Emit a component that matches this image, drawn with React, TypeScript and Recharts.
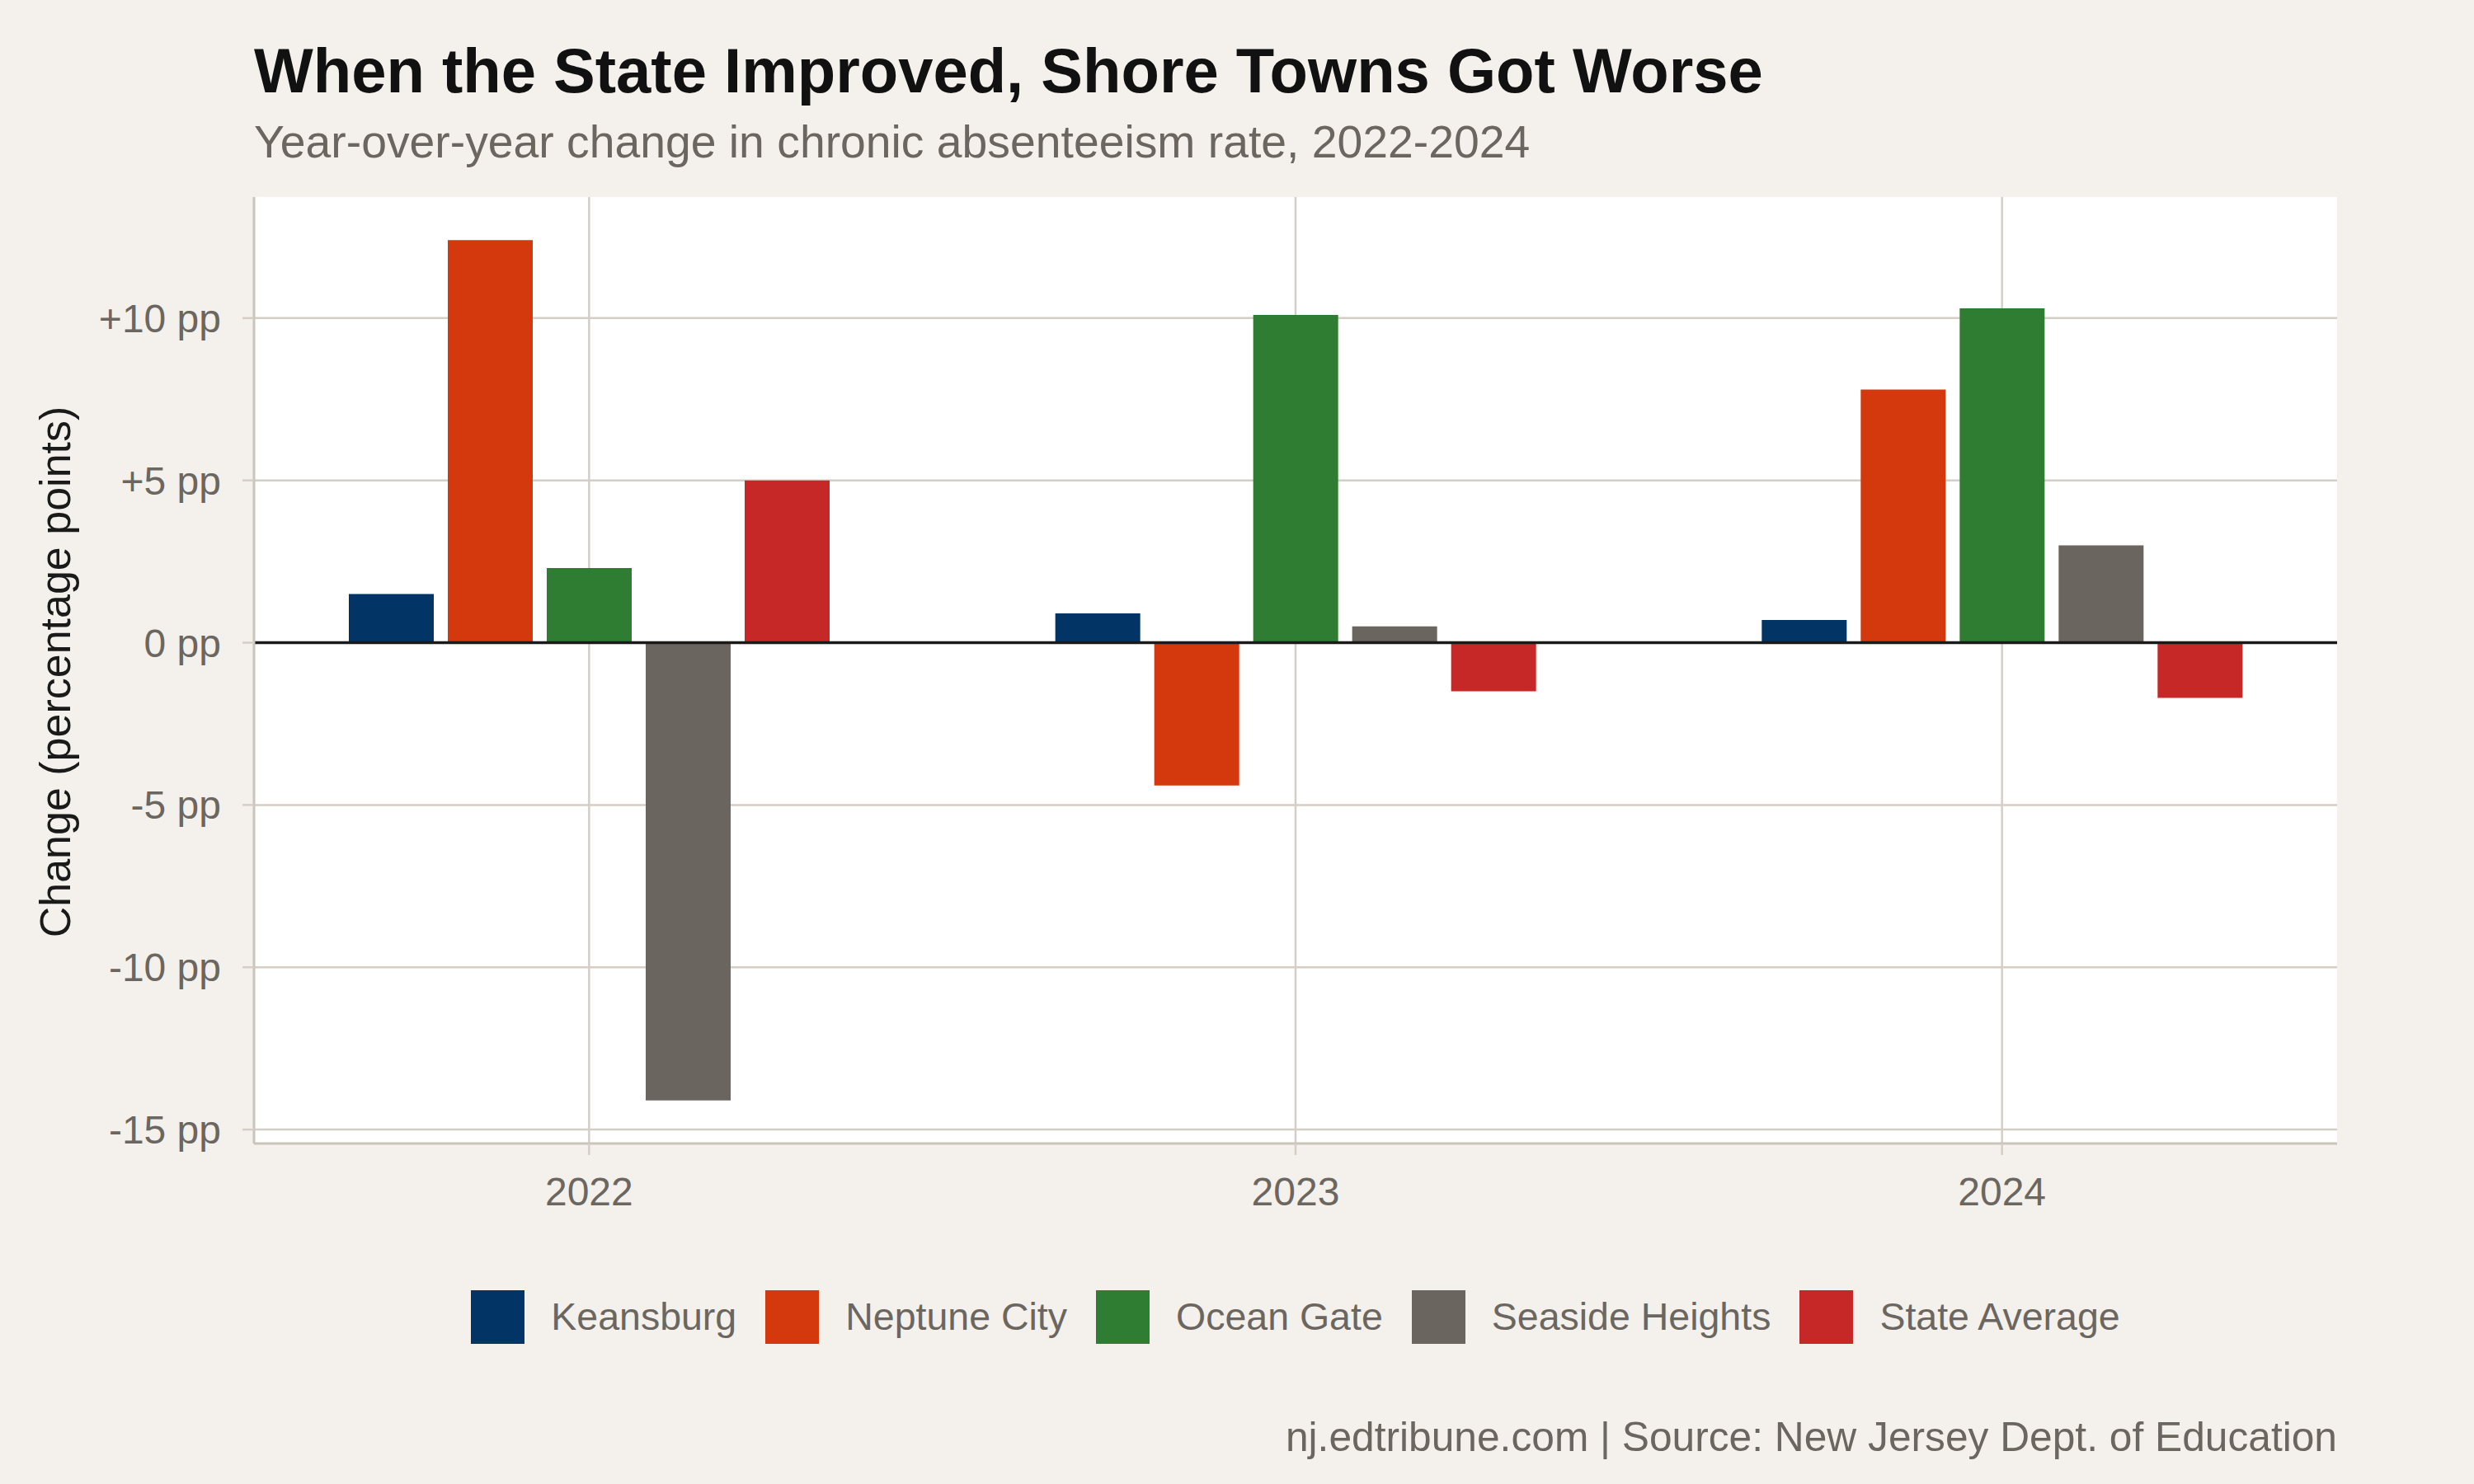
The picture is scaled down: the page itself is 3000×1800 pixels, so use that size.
import { Bar, BarChart, CartesianGrid, ReferenceLine, XAxis, YAxis } from "recharts";

const years = ["2022", "2023", "2024"];
const keansburg = [1.5, 0.9, 0.7];
const neptuneCity = [12.4, -4.4, 7.8];
const oceanGate = [2.3, 10.1, 10.3];
const seasideHeights = [-14.1, 0.5, 3.0];
const stateAverage = [5.0, -1.5, -1.7];
const yTicks = [-15, -10, -5, 0, 5, 10];

const series = [
  { key: "keansburg", name: "Keansburg", color: "#023466", values: keansburg },
  { key: "neptuneCity", name: "Neptune City", color: "#D4390E", values: neptuneCity },
  { key: "oceanGate", name: "Ocean Gate", color: "#2E7D32", values: oceanGate },
  { key: "seasideHeights", name: "Seaside Heights", color: "#6A655E", values: seasideHeights },
  { key: "stateAverage", name: "State Average", color: "#C62828", values: stateAverage },
];

const data = years.map((year, i) => {
  const row: Record<string, string | number> = { year };
  series.forEach((s) => (row[s.key] = s.values[i]));
  return row;
});

const FONT = '"Liberation Sans", Arial, Helvetica, sans-serif';
const MUTED = "#6b665f";
const GRID = "#d4cec6";
const AXIS = "#cbc4ba";

const formatPp = (v: number) => (v > 0 ? `+${v} pp` : `${v} pp`);

export default function App() {
  return (
    <div
      style={{
        position: "absolute",
        left: 0,
        top: 0,
        width: 3000,
        height: 1800,
        background: "#f4f1ec",
        fontFamily: FONT,
        overflow: "hidden",
      }}
    >
      <BarChart
        width={3000}
        height={1800}
        data={data}
        margin={{ top: 239, right: 166, bottom: 313, left: 0 }}
        barGap={17}
        style={{ position: "absolute", left: 0, top: 0 }}
      >
        {/* grid only at tick positions, no frame around the panel */}
        <CartesianGrid fill="#ffffff" stroke={GRID} strokeWidth={2.5} syncWithTicks />
        <XAxis
          dataKey="year"
          height={100}
          padding={{ left: -22, right: -22 }}
          axisLine={{ stroke: AXIS, strokeWidth: 3 }}
          tickLine={{ stroke: GRID, strokeWidth: 2.5 }}
          tickSize={14}
          tickMargin={27}
          tick={{ fill: MUTED, fontSize: 48, fontFamily: FONT }}
        />
        <YAxis
          type="number"
          width={308}
          domain={[-15.43, 13.73]}
          ticks={yTicks}
          tickFormatter={formatPp}
          axisLine={{ stroke: AXIS, strokeWidth: 3 }}
          tickLine={{ stroke: GRID, strokeWidth: 2.5 }}
          tickSize={14}
          tickMargin={26}
          tick={{ fill: MUTED, fontSize: 48, fontFamily: FONT }}
        />
        {series.map((s) => (
          <Bar
            key={s.key}
            dataKey={s.key}
            name={s.name}
            fill={s.color}
            barSize={103}
            isAnimationActive={false}
          />
        ))}
        <ReferenceLine y={0} stroke="#1a1a1a" strokeWidth={3.5} />
      </BarChart>

      <div
        style={{
          position: "absolute",
          left: 308,
          top: 48,
          fontSize: 76,
          lineHeight: 1,
          fontWeight: 700,
          color: "#111111",
          whiteSpace: "nowrap",
        }}
      >
        When the State Improved, Shore Towns Got Worse
      </div>
      <div
        style={{
          position: "absolute",
          left: 308,
          top: 145,
          fontSize: 55.3,
          lineHeight: 1,
          color: MUTED,
          whiteSpace: "nowrap",
        }}
      >
        Year-over-year change in chronic absenteeism rate, 2022-2024
      </div>

      <div
        style={{
          position: "absolute",
          left: 67,
          top: 815,
          fontSize: 52,
          lineHeight: 1,
          color: "#1a1a1a",
          whiteSpace: "nowrap",
          transform: "translate(-50%, -50%) rotate(-90deg)",
        }}
      >
        Change (percentage points)
      </div>

      {/* legend */}
      <div
        style={{
          position: "absolute",
          left: 308,
          width: 2526,
          top: 1565,
          height: 65,
          display: "flex",
          justifyContent: "center",
          alignItems: "center",
          gap: 35,
        }}
      >
        {series.map((s) => (
          <div key={s.key} style={{ display: "flex", alignItems: "center" }}>
            <div style={{ width: 65, height: 65, background: s.color, marginRight: 32 }} />
            <span style={{ fontSize: 46.5, lineHeight: 1, color: MUTED, whiteSpace: "nowrap" }}>
              {s.name}
            </span>
          </div>
        ))}
      </div>

      <div
        style={{
          position: "absolute",
          right: 166,
          top: 1719,
          fontSize: 49.7,
          lineHeight: 1,
          color: MUTED,
          whiteSpace: "nowrap",
        }}
      >
        nj.edtribune.com | Source: New Jersey Dept. of Education
      </div>
    </div>
  );
}
